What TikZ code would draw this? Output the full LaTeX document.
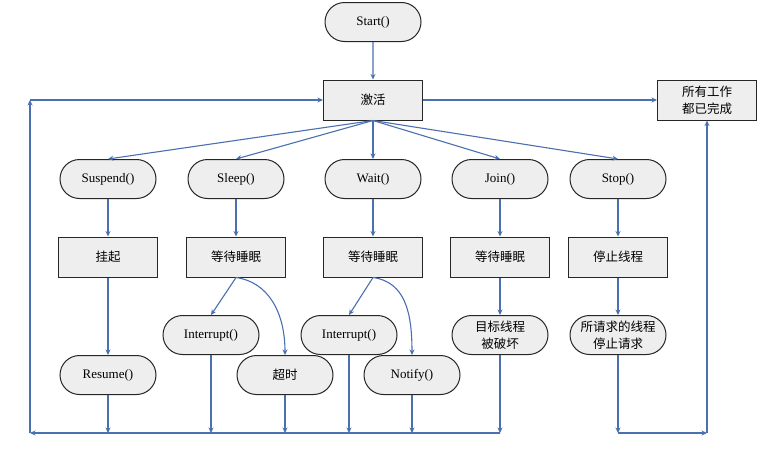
\documentclass[tikz,border=0pt]{standalone}
\usepackage{fontspec}
\setmainfont{Liberation Serif}
\newfontfamily\cjk{Noto Sans CJK SC}
\usepackage{tikz}
\usetikzlibrary{shapes.misc,arrows.meta}
\definecolor{flowblue}{RGB}{74,112,176}
\definecolor{boxgray}{RGB}{238,238,238}

\begin{document}
\begin{tikzpicture}[>={Stealth[length=5.5pt,width=5pt]},x=1pt,y=-1pt,
  pill/.style={draw=black!85,line width=1pt,fill=boxgray,rounded rectangle,minimum width=98pt,
               minimum height=39pt,inner sep=1pt,align=center,font=\fontsize{13}{17}\selectfont},
  box/.style={draw=black!85,line width=1pt,fill=boxgray,rectangle,minimum width=99pt,
              minimum height=40pt,inner sep=1pt,align=center,font=\fontsize{13}{17}\selectfont},
  zh/.style={font=\cjk\fontsize{12.5}{17}\selectfont},
  flow/.style={draw=flowblue,line width=1.1pt,->}]
  \useasboundingbox[fill=white] (0,0) rectangle (760,450);
  % top: start, activate, finished
  \node[pill] (start) at (373,22) {Start()};
  \node[box,zh] (jh) at (373,100) {激活};
  \node[box,zh] (done) at (707,100) {所有工作\\都已完成};
  % method calls
  \node[pill] (sus) at (108,179) {Suspend()};
  \node[pill] (slp) at (236,179) {Sleep()};
  \node[pill] (wt)  at (373,179) {Wait()};
  \node[pill] (jn)  at (500,179) {Join()};
  \node[pill] (stp) at (618,179) {Stop()};
  % thread states
  \node[box,zh] (gq)  at (108,257) {挂起};
  \node[box,zh] (sm1) at (236,257) {等待睡眠};
  \node[box,zh] (sm2) at (373,257) {等待睡眠};
  \node[box,zh] (sm3) at (500,257) {等待睡眠};
  \node[box,zh] (tz)  at (618,257) {停止线程};
  % wake-up events
  \node[pill] (int1) at (211,335) {Interrupt()};
  \node[pill] (int2) at (349,335) {Interrupt()};
  \node[pill,zh] (pd) at (500,335) {目标线程\\被破坏};
  \node[pill,zh] (qq) at (618,335) {所请求的线程\\停止请求};
  \node[pill] (rs) at (108,375) {Resume()};
  \node[pill,zh] (cs) at (285,375) {超时};
  \node[pill] (nt) at (412,375) {Notify()};
  % return lines
  \coordinate (bl) at (30,433);
  \coordinate (tl) at (30,100);
  \coordinate (br) at (707,433);

  \draw[flow] (start) -- (jh);
  \draw[flow] (jh) -- (done);
  \foreach \n in {sus,slp,wt,jn,stp}
    \draw[flow] (jh.south) -- (\n.north);
  \foreach \a/\b in {sus/gq,slp/sm1,wt/sm2,jn/sm3,stp/tz,gq/rs,sm3/pd,tz/qq}
    \draw[flow] (\a.south) -- (\b.north);
  \draw[flow] (sm1.south) -- (int1.north);
  \draw[flow] (sm1.south) .. controls (268,282) and (285,312) .. (cs.north);
  \draw[flow] (sm2.south) -- (int2.north);
  \draw[flow] (sm2.south) .. controls (405,282) and (412,312) .. (nt.north);
  \foreach \n in {rs,int1,cs,int2,nt,pd}
    \draw[flow] (\n.south) -- (\n.south |- bl);
  \draw[flow] (pd.south |- bl) -- (bl);
  \draw[flow] (bl) -- (tl);
  \draw[flow] (tl) -- (jh.west);
  \draw[flow] (qq.south) -- (qq.south |- br);
  \draw[flow] (qq.south |- br) -- (br);
  \draw[flow] (br) -- (done.south);
\end{tikzpicture}
\end{document}
